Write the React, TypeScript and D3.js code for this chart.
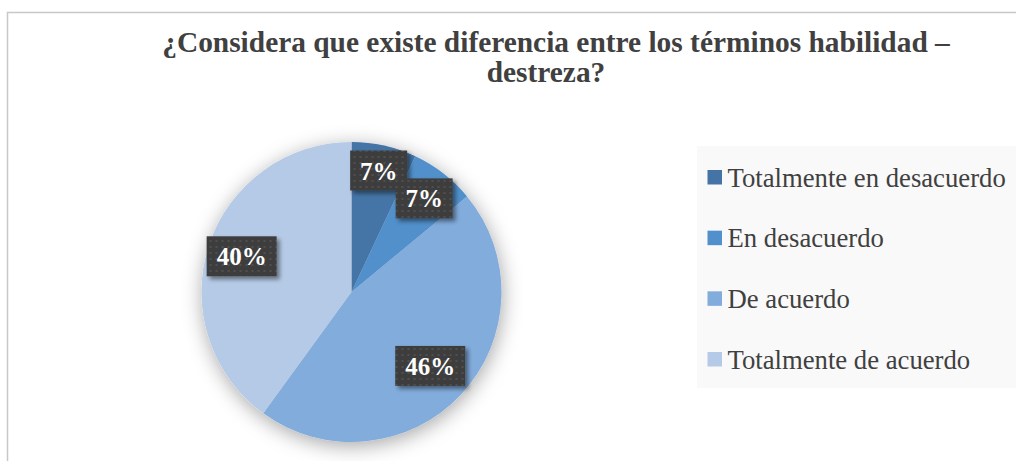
import React from "react";
import * as d3 from "d3";

const categories = [
  "Totalmente en desacuerdo",
  "En desacuerdo",
  "De acuerdo",
  "Totalmente de acuerdo",
];
const percentages = [7, 7, 46, 40];
const sliceColors = ["#4474a6", "#5190cb", "#82acdc", "#b5cae6"];
const titleLines = [
  "¿Considera que existe diferencia entre los términos habilidad –",
  "destreza?",
];

const width = 1016, height = 461;
const cx = 351.5, cy = 292, radius = 150;
// how far out each label sits, as a share of the radius
const labelFactor = [0.83, 0.79, 0.72, 0.77];
const serif = "'Liberation Serif', 'Times New Roman', serif";

const App = () => {
  const pie = d3.pie<number>().sort(null).value((d) => d);
  const arcs = pie(percentages);
  const arc = d3.arc<d3.PieArcDatum<number>>().innerRadius(0).outerRadius(radius);

  const legendY = d3.scalePoint<string>()
    .domain(categories)
    .range([177, 359]);

  return (
    <svg width={width} height={height}
      style={{ position: "absolute", left: 0, top: 0, background: "#fff" }}>
      <defs>
        <filter id="pieShadow" x="-30%" y="-30%" width="160%" height="160%">
          <feDropShadow dx="1" dy="4" stdDeviation="10" floodColor="#000" floodOpacity="0.35" />
        </filter>
        <filter id="boxShadow" x="-30%" y="-30%" width="160%" height="160%">
          <feDropShadow dx="3" dy="3" stdDeviation="2" floodColor="#000" floodOpacity="0.45" />
        </filter>
        <pattern id="dots" width="6" height="6" patternUnits="userSpaceOnUse">
          <rect width="6" height="6" fill="#3d3d3d" />
          <circle cx="3" cy="3" r="0.9" fill="#585858" />
        </pattern>
      </defs>

      <rect x={7.5} y={12.5} width={1100} height={500} fill="#fff" stroke="#c8c8c8" strokeWidth={1.5} />

      <g fontFamily={serif} fontWeight="bold" fontSize={29.4} fill="#404040" textAnchor="middle">
        <text x={556} y={52}>{titleLines[0]}</text>
        <text x={546} y={82}>{titleLines[1]}</text>
      </g>

      <g transform={`translate(${cx},${cy})`}>
        <g filter="url(#pieShadow)">
          {arcs.map((a, i) => (
            <path key={i} d={arc(a) || ""} fill={sliceColors[i]} />
          ))}
        </g>
        {arcs.map((a, i) => {
          const mid = (a.startAngle + a.endAngle) / 2;
          const r = radius * labelFactor[i];
          const x = Math.sin(mid) * r;
          const y = -Math.cos(mid) * r;
          const label = percentages[i] + "%";
          const w = label.length > 2 ? 70 : 57;
          return (
            <g key={"l" + i}>
              <rect x={x - w / 2} y={y - 20} width={w} height={40}
                fill="url(#dots)" filter="url(#boxShadow)" />
              <text x={x} y={y + 9} textAnchor="middle" fontFamily={serif}
                fontWeight="bold" fontSize={25} fill="#fff">{label}</text>
            </g>
          );
        })}
      </g>

      <rect x={697} y={146} width={330} height={242} fill="#f9f9f9" />
      {categories.map((c, i) => {
        const y = legendY(c) as number;
        return (
          <g key={c}>
            <rect x={707.5} y={y - 7} width={14.5} height={14.5} fill={sliceColors[i]} />
            <text x={727.5} y={y + 9.5} fontFamily={serif} fontSize={26.7} fill="#404040">{c}</text>
          </g>
        );
      })}
    </svg>
  );
};

export default App;
